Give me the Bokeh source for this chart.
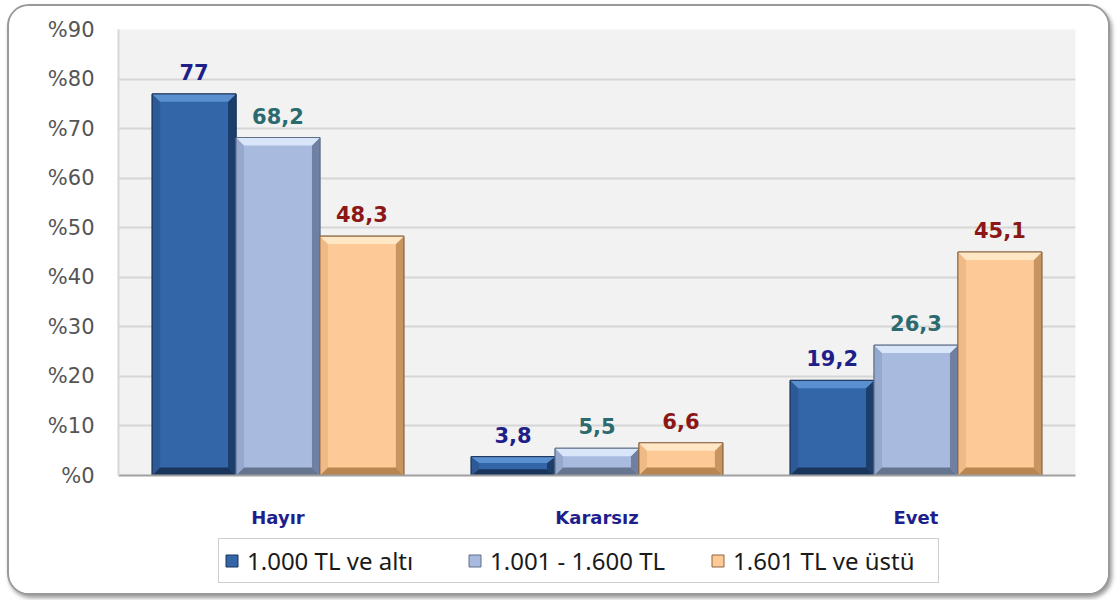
from bokeh.plotting import figure
from bokeh.layouts import column
from bokeh.models import Range1d, FixedTicker, Legend, LegendItem, ColumnDataSource
from bokeh.core.properties import value
from bokeh.embed import file_html
from bokeh.resources import INLINE

categories = ["Hayır", "Kararsız", "Evet"]
series_names = ["1.000 TL ve altı", "1.001 - 1.600 TL", "1.601 TL ve üstü"]
low_income = [77, 3.8, 19.2]
mid_income = [68.2, 5.5, 26.3]
high_income = [48.3, 6.6, 45.1]
y_ticks = [0, 10, 20, 30, 40, 50, 60, 70, 80, 90]
y_tick_labels = ["%0", "%10", "%20", "%30", "%40", "%50", "%60", "%70", "%80", "%90"]

series_values = [low_income, mid_income, high_income]
styles = [
    dict(face="#3366a8", top="#5a8fd0", left="#2d5a96", right="#1d3d6b", bottom="#1a355c", line="#1b3358", text="#1f1f8a"),
    dict(face="#a8bbdf", top="#d9e6fa", left="#95a9cf", right="#6f80a2", bottom="#66758f", line="#5f6d88", text="#2b6a6e"),
    dict(face="#fdca97", top="#ffe6c4", left="#f0ba86", right="#c8945f", bottom="#b98550", line="#8a6440", text="#8c1717"),
]

W = 1099
p = figure(width=W, height=525, output_backend="svg", toolbar_location=None,
           x_range=Range1d(0, 3), y_range=Range1d(0, 90),
           min_border_left=109, min_border_right=33, min_border_top=23, min_border_bottom=56)
p.background_fill_color = "#f2f2f2"
p.border_fill_color = "white"
p.outline_line_color = None

p.ygrid.grid_line_color = "#d6d6d6"
p.ygrid.grid_line_width = 2
p.ygrid.ticker = FixedTicker(ticks=y_ticks)
p.xgrid.grid_line_color = None

p.yaxis.ticker = FixedTicker(ticks=y_ticks)
p.yaxis.major_label_overrides = {t: l for t, l in zip(y_ticks, y_tick_labels)}
p.yaxis.axis_line_color = "#d6d6d6"
p.yaxis.axis_line_width = 2
p.yaxis.major_tick_line_color = None
p.yaxis.minor_tick_line_color = None
p.yaxis.major_label_text_font = "DejaVu Sans"
p.yaxis.major_label_text_font_size = "21px"
p.yaxis.major_label_text_color = "#555555"
p.yaxis.major_label_standoff = 18

centers = [i + 0.5 for i in range(len(categories))]
p.xaxis.ticker = FixedTicker(ticks=centers)
p.xaxis.major_label_overrides = {c: n for c, n in zip(centers, categories)}
p.xaxis.axis_line_color = "#a0a0a0"
p.xaxis.axis_line_width = 2
p.xaxis.major_tick_line_color = None
p.xaxis.minor_tick_line_color = None
p.xaxis.major_label_text_font = "DejaVu Sans"
p.xaxis.major_label_text_font_style = "bold"
p.xaxis.major_label_text_font_size = "18px"
p.xaxis.major_label_text_color = "#1e1e8c"
p.xaxis.major_label_standoff = 25

bar_w = 0.263
bev_x = 0.025
bev_y = 1.6
for si, (vals, st) in enumerate(zip(series_values, styles)):
    off = (si - 1) * bar_w
    x0 = [c + off - bar_w / 2 for c in centers]
    x1 = [c + off + bar_w / 2 for c in centers]
    src = ColumnDataSource(dict(left=x0, right=x1, top=vals, bottom=[0] * len(vals)))
    p.quad(left="left", right="right", top="top", bottom="bottom", source=src,
           fill_color=st["face"], line_color=st["line"], line_width=1)
    tops_x, tops_y, bots_x, bots_y, lx, ly, rx, ry = [], [], [], [], [], [], [], []
    for a, b, h in zip(x0, x1, vals):
        cy = min(bev_y, h / 3)
        tops_x.append([a, b, b - bev_x, a + bev_x]); tops_y.append([h, h, h - cy, h - cy])
        bots_x.append([a, b, b - bev_x, a + bev_x]); bots_y.append([0, 0, cy, cy])
        lx.append([a, a, a + bev_x, a + bev_x]); ly.append([0, h, h - cy, cy])
        rx.append([b, b, b - bev_x, b - bev_x]); ry.append([0, h, h - cy, cy])
    p.patches(lx, ly, fill_color=st["left"], line_color=None)
    p.patches(rx, ry, fill_color=st["right"], line_color=None)
    p.patches(bots_x, bots_y, fill_color=st["bottom"], line_color=None)
    p.patches(tops_x, tops_y, fill_color=st["top"], line_color=None)
    p.quad(left="left", right="right", top="top", bottom="bottom", source=src,
           fill_color=None, line_color=st["line"], line_width=1)
    labels = [f"{v:g}".replace(".", ",") for v in vals]
    lsrc = ColumnDataSource(dict(x=[c + off for c in centers], y=vals, t=labels))
    p.text(x="x", y="y", text="t", source=lsrc, text_align="center", text_baseline="bottom",
           y_offset=-14, text_font=value("DejaVu Sans"), text_font_style="bold",
           text_font_size="21px", text_color=st["text"])

# legend strip below the chart (its frame is aligned with the chart frame)
LH = 62
pl = figure(width=W, height=LH, output_backend="svg", toolbar_location=None,
            x_range=Range1d(0, 1), y_range=Range1d(0, 1),
            min_border_left=0, min_border_right=0, min_border_top=0, min_border_bottom=0,
            x_axis_type=None, y_axis_type=None)
pl.grid.grid_line_color = None
pl.outline_line_color = None
pl.background_fill_color = "white"
pl.border_fill_color = "white"
items = []
for st, name in zip(styles, series_names):
    # off-range placeholder glyph, used only for the legend swatch
    r = pl.quad(left=[5], right=[6], top=[6], bottom=[5],
                fill_color=st["face"], line_color=st["line"], line_width=1)
    items.append(LegendItem(label=name, renderers=[r]))

legend = Legend(items=items, orientation="horizontal", location=(100, 10),
                label_text_font="Noto Sans", label_text_font_size="24px",
                label_text_color="#1a1a1a", glyph_width=15, glyph_height=15,
                label_width=200, spacing=20, padding=5, margin=0,
                border_line_color="#a0a0a0", border_line_width=1,
                background_fill_color="white", label_standoff=8)
pl.add_layout(legend, "center")

layout = column(p, pl, spacing=0)
layout.styles = {"border": "2px solid #9a9a9a", "border-radius": "22px",
                 "box-shadow": "2px 3px 4px #9a9a9a", "margin-left": "7px",
                 "margin-top": "4px", "overflow": "hidden", "background": "white"}

open("out.html", "w").write(file_html(layout, INLINE))
